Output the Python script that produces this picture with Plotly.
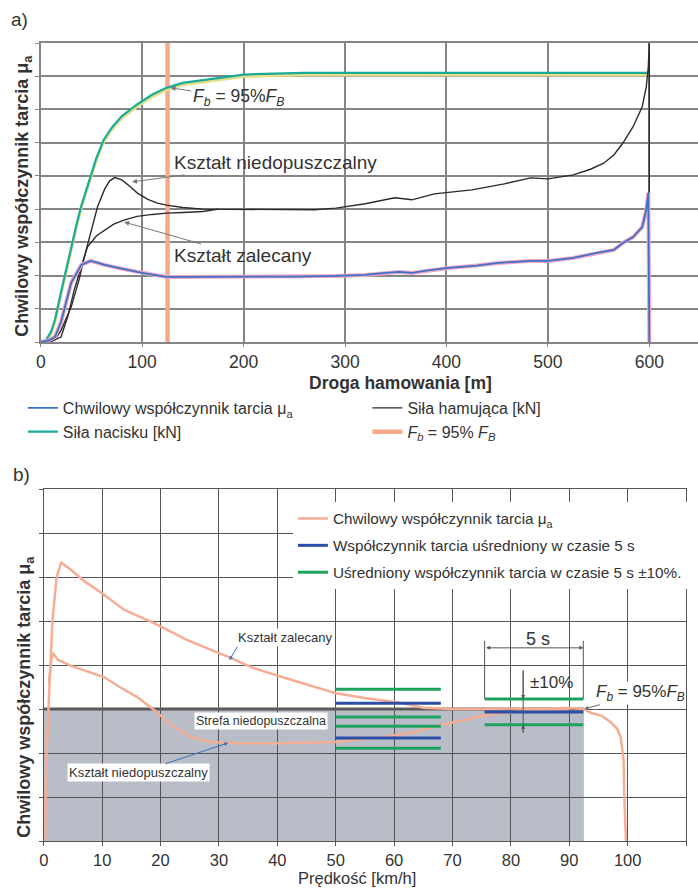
import plotly.graph_objects as go

W, H = 698, 889

# ================= panel a) : braking distance [m] =================
a_green_x = [0, 5, 10, 14, 20, 25, 30, 35, 40, 48, 55, 62, 70, 80, 95, 110, 124, 140, 160, 180, 200, 230, 260, 400, 598]
a_green_y = [0, 0.05, 0.3, 0.66, 1.5, 2.2, 2.87, 3.5, 4.1, 4.88, 5.55, 6.08, 6.45, 6.8, 7.15, 7.45, 7.65, 7.8, 7.89, 7.98, 8.05, 8.08, 8.1, 8.1, 8.1]

a_black_x = [0, 8, 14, 20, 30, 38, 43, 50, 56, 63, 68, 73, 80, 88, 95, 105, 115, 124, 140, 160, 200, 240, 270, 291, 320, 349, 366, 388, 400, 425, 457,
             476, 483, 500, 525, 542, 555, 565, 574, 584, 593, 597, 599, 600, 600]
a_black_y = [0, 0.0, 0.06, 0.35, 1.05, 1.9, 2.56, 3.35, 4.07, 4.6, 4.85, 4.95, 4.88, 4.68, 4.49, 4.3, 4.18, 4.12, 4.05, 4.0, 4.0, 4.0, 3.98, 4.03, 4.16, 4.34, 4.28, 4.46, 4.5, 4.58, 4.76,
             4.88, 4.94, 4.91, 5.03, 5.2, 5.38, 5.63, 5.99, 6.48, 7.08, 7.68, 8.28, 9.0, 0]

a_rec_x = [0, 10, 20, 27, 33, 40, 46, 55, 63, 72, 82, 95, 110, 124, 140, 160, 175]
a_rec_y = [0, 0.02, 0.15, 0.8, 1.57, 2.3, 2.86, 3.2, 3.37, 3.55, 3.67, 3.78, 3.84, 3.88, 3.9, 3.93, 4.0]

a_blue_x = [0, 8, 14, 20, 30, 40, 49, 55, 63, 80, 95, 110, 124, 140, 160, 200, 250, 291, 320, 340, 353, 366, 380, 402, 430, 451, 483, 500,
            525, 548, 565, 574, 584, 593, 597, 599, 600]
a_blue_y = [0, 0.05, 0.15, 0.6, 1.78, 2.32, 2.44, 2.4, 2.32, 2.2, 2.11, 2.03, 1.96, 1.96, 1.96, 1.96, 1.97, 1.99, 2.02, 2.08, 2.11, 2.08, 2.15, 2.23, 2.3, 2.38, 2.44, 2.44,
            2.53, 2.68, 2.77, 2.98, 3.16, 3.46, 3.98, 4.49, 0]

a_fb_x = [125, 125]
a_fb_y = [0, 9]

a_xticks = [0, 100, 200, 300, 400, 500, 600]

# ================= panel b) : speed [km/h] =================
b_up_x = [0.2, 0.5, 1.0, 1.5, 2.2, 3.0, 4.7, 7.0, 10.4, 13.8, 18.9, 24.5, 32.0, 35.9, 41.5, 46, 50, 55, 61, 65, 70, 75, 80, 85, 90, 92.5,
          93.7, 95.5, 97.1, 98.2, 98.8, 99.3, 99.4, 99.7]
b_up_y = [0, 2.0, 3.6, 5.0, 6.0, 6.33, 6.16, 5.9, 5.59, 5.25, 4.95, 4.57, 4.16, 3.93, 3.70, 3.52, 3.36, 3.25, 3.14, 3.03, 3.0, 3.0, 3.01, 3.0, 3.02, 3.0,
          2.91, 2.85, 2.7, 2.55, 2.36, 1.84, 1.1, 0]

b_low_x = [0.9, 1.3, 1.6, 2.4, 4.7, 7.5, 10.4, 13, 16, 18.9, 21.8, 25.2, 28.5, 33, 40, 50, 58, 63.6, 68.2, 72, 75.5, 80.6, 85, 90]
b_low_y = [3.6, 4.1, 4.27, 4.12, 3.98, 3.85, 3.72, 3.5, 3.27, 2.98, 2.64, 2.36, 2.25, 2.22, 2.22, 2.25, 2.36, 2.48, 2.64, 2.75, 2.86, 2.93, 2.98, 3.0]

win_x0 = [50, 50, 75.5]
win_x1 = [68, 68, 92.4]
win_mean = [3.13, 2.34, 2.93]
win_hi = [3.45, 2.61, 3.23]
win_lo = [2.82, 2.11, 2.64]

zone_x = [0, 92.5]
zone_level = 3.0

b_xticks = [0, 10, 20, 30, 40, 50, 60, 70, 80, 90, 100, 110]

# ---------------- styling ----------------
FONT = "Liberation Sans, Arial, sans-serif"
TXT = "#333333"
GRID_A = "#858585"
GRID_B = "#555555"


def px_x(p):
    return p / W


def px_y(p):
    return 1 - p / H


def segs(x0s, x1s, ys):
    xs, yv = [], []
    for a, b, y in zip(x0s, x1s, ys):
        xs += [a, b, None]
        yv += [y, y, None]
    return xs, yv


fig = go.Figure()

# ---- panel a traces ----
fig.add_trace(go.Scatter(x=a_fb_x, y=a_fb_y, mode="lines", line=dict(color="#f7a98b", width=4.5),
                         name="<i>F<sub>b</sub></i> = 95% <i>F<sub>B</sub></i>", legend="legend3", legendrank=2,
                         xaxis="x", yaxis="y"))
fig.add_trace(go.Scatter(x=a_green_x, y=[v - 0.06 for v in a_green_y], mode="lines", line=dict(color="#e4df8a", width=3),
                         showlegend=False, hoverinfo="skip", xaxis="x", yaxis="y"))
fig.add_trace(go.Scatter(x=a_green_x, y=a_green_y, mode="lines", line=dict(color="#1bab9a", width=2.2),
                         name="Siła nacisku [kN]", legend="legend", legendrank=2, xaxis="x", yaxis="y"))
fig.add_trace(go.Scatter(x=a_rec_x, y=a_rec_y, mode="lines", line=dict(color="#2b2b2b", width=1.4),
                         showlegend=False, xaxis="x", yaxis="y"))
fig.add_trace(go.Scatter(x=a_black_x, y=a_black_y, mode="lines", line=dict(color="#2b2b2b", width=1.4),
                         name="Siła hamująca [kN]", legend="legend3", legendrank=1, xaxis="x", yaxis="y"))
fig.add_trace(go.Scatter(x=a_blue_x, y=a_blue_y, mode="lines", line=dict(color="#f2a6c4", width=4),
                         showlegend=False, hoverinfo="skip", xaxis="x", yaxis="y"))
fig.add_trace(go.Scatter(x=a_blue_x, y=a_blue_y, mode="lines", line=dict(color="#3a72c8", width=1.8),
                         name="Chwilowy współczynnik tarcia μ<sub>a</sub>", legend="legend", legendrank=1,
                         xaxis="x", yaxis="y"))

# ---- panel b traces ----
fig.add_trace(go.Scatter(x=zone_x, y=[zone_level, zone_level], mode="lines", line=dict(color="#5a5a5a", width=3),
                         showlegend=False, hoverinfo="skip", xaxis="x2", yaxis="y2"))
fig.add_trace(go.Scatter(x=b_low_x, y=b_low_y, mode="lines", line=dict(color="#f5ad93", width=2.5),
                         showlegend=False, xaxis="x2", yaxis="y2"))
fig.add_trace(go.Scatter(x=b_up_x, y=b_up_y, mode="lines", line=dict(color="#f5ad93", width=2.5),
                         name="Chwilowy współczynnik tarcia μ<sub>a</sub>", legend="legend2", legendgroup="g1",
                         xaxis="x2", yaxis="y2"))
gx, gy = segs(win_x0 + win_x0, win_x1 + win_x1, win_hi + win_lo)
bx, by = segs(win_x0, win_x1, win_mean)
fig.add_trace(go.Scatter(x=bx, y=by, mode="lines", line=dict(color="#2b4ea6", width=3),
                         name="Współczynnik tarcia uśredniony w czasie 5 s", legend="legend2", legendgroup="g2",
                         xaxis="x2", yaxis="y2"))
fig.add_trace(go.Scatter(x=gx, y=gy, mode="lines", line=dict(color="#1ea35f", width=3),
                         name="Uśredniony współczynnik tarcia w czasie 5 s ±10%.", legend="legend2", legendgroup="g3",
                         xaxis="x2", yaxis="y2"))

# shaded forbidden zone (below grid)
shapes = [
    dict(type="rect", xref="x2", yref="y2", x0=zone_x[0], x1=zone_x[1], y0=0, y1=zone_level,
         fillcolor="#b8bdc7", line=dict(width=0), layer="below"),
    # 5 s extension lines
    dict(type="line", xref="x2", yref="y2", x0=win_x0[2], x1=win_x0[2], y0=4.55, y1=win_hi[2],
         line=dict(color="#555", width=1)),
    dict(type="line", xref="x2", yref="y2", x0=win_x1[2], x1=win_x1[2], y0=4.55, y1=win_hi[2],
         line=dict(color="#555", width=1)),
    # ±10% vertical
    dict(type="line", xref="x2", yref="y2", x0=82.1, x1=82.1, y0=3.89, y1=2.45,
         line=dict(color="#555", width=1)),
    # underline for "Kształt zalecany"
    dict(type="line", xref="x2", yref="y2", x0=33.3, x1=49.1, y0=4.45, y1=4.45,
         line=dict(color="#4a78c8", width=1)),
]

C = dict(xanchor="center", yanchor="middle")
ann = []
# panel labels
ann.append(dict(text="a)", x=px_x(4), y=px_y(19), xref="paper", yref="paper", xanchor="left", yanchor="middle",
                showarrow=False, font=dict(size=19, color=TXT)))
ann.append(dict(text="b)", x=px_x(6), y=px_y(474), xref="paper", yref="paper", xanchor="left", yanchor="middle",
                showarrow=False, font=dict(size=19, color=TXT)))
# axis titles
ann.append(dict(text="<b>Droga hamowania [m]</b>", x=px_x(398), y=px_y(383), xref="paper", yref="paper",
                showarrow=False, font=dict(size=17.5, color=TXT), **C))
ann.append(dict(text="<b>Chwilowy współczynnik tarcia μ<sub>a</sub></b>", x=px_x(18), y=px_y(196), xref="paper",
                yref="paper", textangle=-90, showarrow=False, font=dict(size=18, color=TXT), **C))
ann.append(dict(text="Prędkość [km/h]", x=px_x(355), y=px_y(878), xref="paper", yref="paper",
                showarrow=False, font=dict(size=16.5, color=TXT), **C))
ann.append(dict(text="<b>Chwilowy współczynnik tarcia μ<sub>a</sub></b>", x=px_x(20), y=px_y(697), xref="paper",
                yref="paper", textangle=-90, showarrow=False, font=dict(size=18, color=TXT), **C))

# panel a callouts
arrA = dict(showarrow=True, arrowhead=2, arrowsize=1, arrowwidth=1, arrowcolor="#777777", xref="x", yref="y",
            axref="x", ayref="y")
ann.append(dict(text="<i>F<sub>b</sub></i> = 95%<i>F<sub>B</sub></i>", x=128, y=7.65, ax=194.7, ay=7.35,
                font=dict(size=17.5, color=TXT), **arrA))
ann.append(dict(text="Kształt niedopuszczalny", x=90, y=4.82, ax=231, ay=5.39,
                font=dict(size=19, color=TXT), **arrA))
ann.append(dict(text="Kształt zalecany", x=82.2, y=3.61, ax=199.6, ay=2.59,
                font=dict(size=19, color=TXT), **arrA))

# panel b callouts
arrB = dict(xref="x2", yref="y2", axref="x2", ayref="y2")
ann.append(dict(text="5 s", x=84.7, y=4.6, xref="x2", yref="y2", showarrow=False, font=dict(size=18, color=TXT), **C))
ann.append(dict(text="", x=win_x1[2], y=4.39, ax=win_x0[2], ay=4.39, showarrow=True, arrowhead=2, arrowsize=0.8,
                arrowwidth=1, arrowside="end+start", arrowcolor="#555", **arrB))
ann.append(dict(text="", x=82.1, y=win_hi[2], ax=82.1, ay=3.89, showarrow=True, arrowhead=2, arrowsize=0.8,
                arrowwidth=1, arrowcolor="#555", **arrB))
ann.append(dict(text="", x=82.1, y=win_lo[2], ax=82.1, ay=2.45, showarrow=True, arrowhead=2, arrowsize=0.8,
                arrowwidth=1, arrowcolor="#555", **arrB))
ann.append(dict(text="±10%", x=86.9, y=3.61, xref="x2", yref="y2", showarrow=False, font=dict(size=17, color=TXT), **C))
ann.append(dict(text="<i>F<sub>b</sub></i> = 95%<i>F<sub>B</sub></i>", x=92.6, y=3.0, ax=102.2, ay=3.36,
                showarrow=True, arrowhead=2, arrowsize=0.8, arrowwidth=1, arrowcolor="#666",
                bgcolor="white", borderpad=0, font=dict(size=17, color=TXT), **arrB))
ann.append(dict(text="Kształt zalecany", x=41.3, y=4.63, xref="x2", yref="y2", showarrow=False,
                bgcolor="white", borderpad=1, font=dict(size=13, color=TXT), **C))
ann.append(dict(text="", x=31.8, y=4.11, ax=33.3, ay=4.45, showarrow=True, arrowhead=2, arrowsize=0.8,
                arrowwidth=1, arrowcolor="#3d6fc4", **arrB))
ann.append(dict(text="Strefa niedopuszczalna", x=37.2, y=2.73, xref="x2", yref="y2", showarrow=False,
                bgcolor="white", borderpad=1, font=dict(size=12.5, color=TXT), **C))
ann.append(dict(text="Kształt niedopuszczalny", x=31.6, y=2.23, ax=16.2, ay=1.55, showarrow=True, arrowhead=2,
                arrowsize=0.8, arrowwidth=1, arrowcolor="#3d6fc4", bgcolor="white", borderpad=1,
                font=dict(size=13, color=TXT), **arrB))

legA = dict(xanchor="left", yanchor="top", font=dict(size=16, color=TXT), bgcolor="rgba(0,0,0,0)",
            traceorder="normal")
fig.update_layout(
    width=W, height=H, margin=dict(l=0, r=0, t=0, b=0),
    paper_bgcolor="white", plot_bgcolor="white",
    font=dict(family=FONT, color=TXT),
    shapes=shapes, annotations=ann,
    xaxis=dict(domain=[px_x(36), 1.0], range=[0, 648], tickvals=a_xticks, showgrid=True, gridcolor=GRID_A,
               gridwidth=1.6, showline=True, linecolor=GRID_A, linewidth=1.6, mirror=True, ticks="outside",
               ticklen=3, tickcolor=GRID_A, tickfont=dict(size=17.5, color=TXT), zeroline=False, anchor="y"),
    yaxis=dict(domain=[px_y(342), px_y(43)], range=[0, 9], dtick=1, showticklabels=False, showgrid=True,
               gridcolor=GRID_A, gridwidth=1.6, showline=True, linecolor=GRID_A, linewidth=1.6, ticks="outside",
               ticklen=4, tickcolor=GRID_A, zeroline=False, anchor="x"),
    xaxis2=dict(domain=[px_x(39), px_x(686)], range=[0, 110], tickvals=b_xticks, showgrid=True, gridcolor=GRID_B,
                gridwidth=1.3, showline=True, linecolor=GRID_B, linewidth=1.3, mirror=True, ticks="outside",
                ticklen=4, tickcolor=GRID_B, tickfont=dict(size=16.5, color=TXT), zeroline=False, anchor="y2"),
    yaxis2=dict(domain=[px_y(841), px_y(489)], range=[0, 8], dtick=1, showticklabels=False, showgrid=True,
                gridcolor=GRID_B, gridwidth=1.3, showline=True, linecolor=GRID_B, linewidth=1.3, mirror=True,
                ticks="outside", ticklen=4, tickcolor=GRID_B, zeroline=False, anchor="x2"),
    legend=dict(x=px_x(18), y=px_y(391), **legA),
    legend3=dict(x=px_x(365), y=px_y(391), **legA),
    legend2=dict(x=px_x(290), y=px_y(502), xanchor="left", yanchor="top", bgcolor="white",
                 font=dict(size=15.3, color=TXT), traceorder="grouped", tracegroupgap=4),
    showlegend=True,
)

fig.write_html("out.html")
